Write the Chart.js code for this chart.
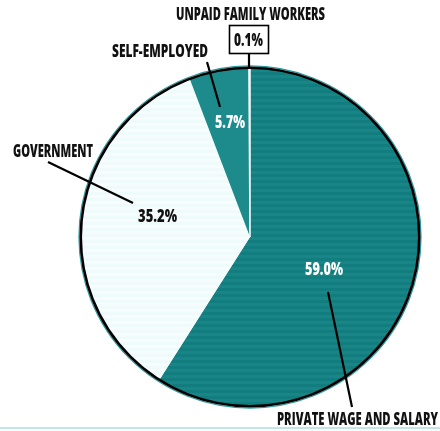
<!DOCTYPE html>
<html>
<head>
<meta charset="utf-8">
<script src="https://cdn.jsdelivr.net/npm/chart.js@4"></script>
<style>
    html, body { margin: 0; padding: 0; background: #ffffff; }
    #wrap { width: 440px; height: 431px; }
</style>
</head>
<body>
<div id="wrap"><canvas id="workerPie" width="440" height="431"></canvas></div>
<script>
// Class of worker shares (percent)
const categories = ['Private wage and salary', 'Government', 'Self-employed', 'Unpaid family workers'];
const shares = [59.0, 35.2, 5.7, 0.1];

// Striped fills, like the scanned original
function stripes(dark, light) {
    const c = document.createElement('canvas');
    c.width = 1;
    c.height = 6;
    const g = c.getContext('2d');
    g.fillStyle = dark;
    g.fillRect(0, 0, 1, 6);
    g.fillStyle = light;
    g.fillRect(0, 3, 1, 3);
    return g.createPattern(c, 'repeat');
}

const fills = [
    stripes('#127d7e', '#198587'),   // private
    stripes('#effafa', '#f7fdfd'),   // government
    '#1d8a8b',                       // self-employed
    '#ffffff'                        // unpaid
];

// Label layout: text box (left, right, baseline) and leader line per slice
const labelLayout = [
    { name: [277, 438, 425], pct: [305, 343, 275], pctColor: '#ffffff', leader: [328, 292, 352, 407] },
    { name: [13, 93, 157], pct: [138, 177, 222], pctColor: '#111111', leader: [48, 162, 133, 203] },
    { name: [112, 208, 57], pct: [215, 245, 128], pctColor: '#ffffff', leader: [207, 62, 220, 107] },
    { name: [176, 325, 19.5], pct: [234, 263, 45.5], pctColor: '#111111', leader: [249, 54, 249, 67], box: [229.5, 25.5, 39, 28] }
];

const FONT = '800 17px "Open Sans", "Liberation Sans", sans-serif';

function fitText(ctx, text, left, right, baseline, color) {
    ctx.save();
    ctx.font = FONT;
    ctx.fillStyle = color;
    ctx.textAlign = 'left';
    ctx.textBaseline = 'alphabetic';
    const w = ctx.measureText(text).width;
    const sx = (right - left) / w;
    ctx.translate(left, baseline);
    ctx.scale(sx, 1);
    ctx.fillText(text, 0, 0);
    ctx.restore();
}

const outlineAndLabels = {
    id: 'outlineAndLabels',
    afterDatasetsDraw(chart) {
        const ctx = chart.ctx;
        const arc = chart.getDatasetMeta(0).data[0];
        const { x, y, outerRadius } = arc.getProps(['x', 'y', 'outerRadius'], true);

        // thin teal halo + black rim
        ctx.save();
        ctx.beginPath();
        ctx.arc(x, y, outerRadius + 1.8, 0, Math.PI * 2);
        ctx.strokeStyle = '#2b9aa0';
        ctx.lineWidth = 1.2;
        ctx.stroke();
        ctx.beginPath();
        ctx.arc(x, y, outerRadius, 0, Math.PI * 2);
        ctx.strokeStyle = '#000000';
        ctx.lineWidth = 2.6;
        ctx.stroke();
        ctx.restore();
    },
    afterDraw(chart) {
        const ctx = chart.ctx;

        // light rule along the bottom
        ctx.save();
        ctx.fillStyle = '#bfe6e9';
        ctx.fillRect(0, 427, chart.width, 2);
        ctx.restore();

        labelLayout.forEach((lay, i) => {
            ctx.save();
            ctx.strokeStyle = '#000000';
            ctx.lineWidth = 2.2;
            ctx.beginPath();
            ctx.moveTo(lay.leader[0], lay.leader[1]);
            ctx.lineTo(lay.leader[2], lay.leader[3]);
            ctx.stroke();
            if (lay.box) {
                ctx.fillStyle = '#ffffff';
                ctx.fillRect(lay.box[0], lay.box[1], lay.box[2], lay.box[3]);
                ctx.lineWidth = 1.6;
                ctx.strokeRect(lay.box[0], lay.box[1], lay.box[2], lay.box[3]);
            }
            ctx.restore();

            fitText(ctx, categories[i].toUpperCase(), lay.name[0], lay.name[1], lay.name[2], '#111111');
            fitText(ctx, shares[i].toFixed(1) + '%', lay.pct[0], lay.pct[1], lay.pct[2], lay.pctColor);
        });
    }
};

new Chart(
    document.getElementById('workerPie'),
    {
        type: 'pie',
        data: {
            labels: categories,
            datasets: [{
                data: shares,
                backgroundColor: fills,
                borderColor: '#ffffff',
                borderWidth: [0, 0, 0, 1.5]
            }]
        },
        options: {
            responsive: false,
            animation: false,
            rotation: 0,
            layout: {
                padding: { left: 80, right: 20, top: 67, bottom: 24 }
            },
            plugins: {
                legend: { display: false },
                tooltip: { enabled: false },
                title: { display: false }
            }
        },
        plugins: [outlineAndLabels]
    }
);
</script>
</body>
</html>
